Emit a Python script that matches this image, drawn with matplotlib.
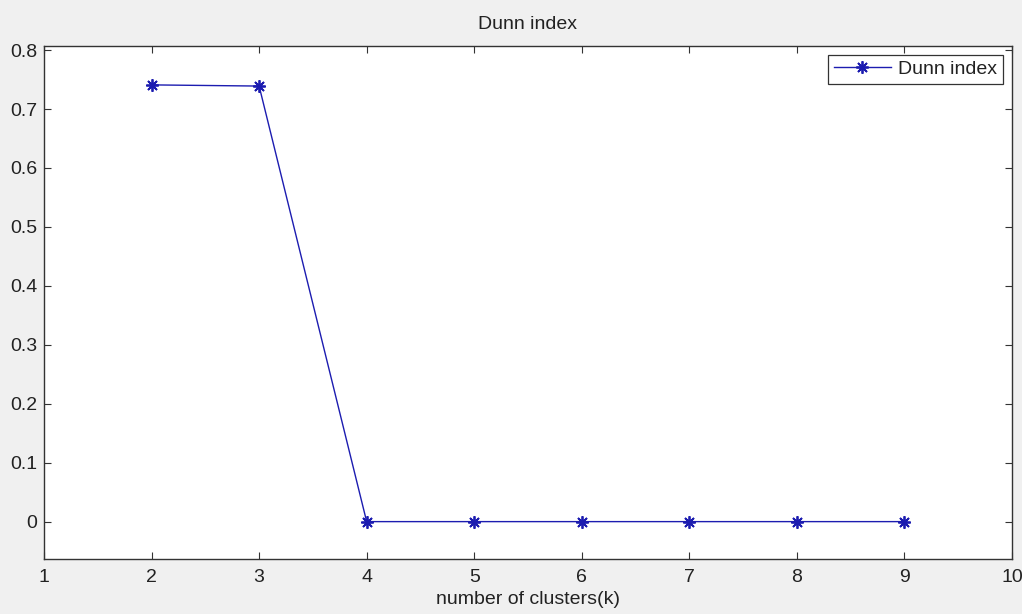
import numpy as np
import matplotlib
matplotlib.use("Agg")
import matplotlib.pyplot as plt

# Dunn index for each number of clusters
k = [2, 3, 4, 5, 6, 7, 8, 9]
dunn = [0.741, 0.739, 0.0, 0.0, 0.0, 0.0, 0.0, 0.0]

plt.rcParams['font.family'] = ['Liberation Sans', 'DejaVu Sans']
plt.rcParams['font.size'] = 14

fig = plt.figure(figsize=(10.22, 6.14), dpi=100, facecolor='#f0f0f0')
ax = fig.add_axes([0.0431, 0.0896, 0.947, 0.8355])
ax.set_facecolor('white')

# asterisk marker: 8 arms, like + and x on top of each other
ax.plot(k, dunn, color='#1c1cb0', lw=1.0, marker=(8, 2, 0), ms=9, mew=1.3,
        mec='#1c1cb0', label='Dunn index')

ax.set_xlim(1, 10)
ax.set_ylim(-0.0634, 0.807)
ax.set_xticks(np.arange(1, 11))
ax.set_yticks(np.arange(0, 0.81, 0.1))
ax.set_yticklabels(['0', '0.1', '0.2', '0.3', '0.4', '0.5', '0.6', '0.7', '0.8'])

ax.tick_params(direction='in', length=5, width=0.8, color='#333333',
               top=True, right=True, labelcolor='#222222')
ax.tick_params(axis='x', pad=7)
ax.tick_params(axis='y', pad=5)
for s in ax.spines.values():
    s.set_color('#333333')
    s.set_linewidth(1.0)

ax.set_title('Dunn index', color='#222222', fontsize=14, pad=12)
ax.set_xlabel('number of clusters(k)', color='#222222', labelpad=4)

leg = ax.legend(loc='upper right', handlelength=2.9, fancybox=False,
                framealpha=1, edgecolor='#333333', borderaxespad=0.45,
                handletextpad=0.4, borderpad=0.3)
leg.get_frame().set_linewidth(0.9)
for t in leg.get_texts():
    t.set_color('#222222')

fig.savefig('out.png', dpi=100, facecolor=fig.get_facecolor())
